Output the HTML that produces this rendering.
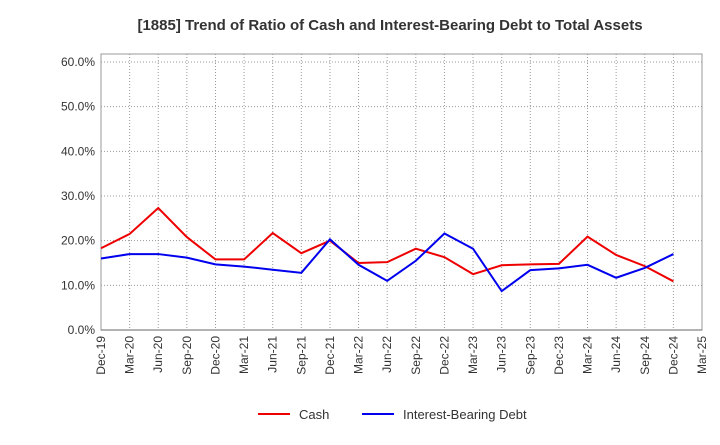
<!DOCTYPE html>
<html><head><meta charset="utf-8"><style>
body{margin:0;background:#fff;font-family:"Liberation Sans",sans-serif;}
</style></head><body>
<svg id="chart" width="720" height="440" xmlns="http://www.w3.org/2000/svg">
<text x="390" y="30" text-anchor="middle" font-size="15" font-weight="bold" fill="#333">[1885]  Trend of Ratio of Cash and Interest-Bearing Debt to Total Assets</text>
<g id="grid"></g><g id="axes"></g><g id="series"></g>
<g>
<line x1="258" y1="414" x2="290" y2="414" stroke="#e00" stroke-width="2"/>
<text x="299" y="419" font-size="13" fill="#333">Cash</text>
<line x1="362" y1="414" x2="394" y2="414" stroke="#00e" stroke-width="2"/>
<text x="403" y="419" font-size="13" fill="#333">Interest-Bearing Debt</text>
</g>
</svg>
<script>
const categories=["Dec-19","Mar-20","Jun-20","Sep-20","Dec-20","Mar-21","Jun-21","Sep-21","Dec-21","Mar-22","Jun-22","Sep-22","Dec-22","Mar-23","Jun-23","Sep-23","Dec-23","Mar-24","Jun-24","Sep-24","Dec-24","Mar-25"];
const cash=[18.3,21.5,27.3,20.8,15.8,15.8,21.7,17.2,20.0,15.0,15.2,18.2,16.3,12.5,14.5,14.7,14.8,20.9,16.8,14.3,10.9];
const debt=[16.0,17.0,17.0,16.2,14.7,14.2,13.5,12.8,20.3,14.6,11.0,15.5,21.6,18.2,8.7,13.4,13.8,14.6,11.7,13.9,17.0];
const yTicks=[0,10,20,30,40,50,60];
const ns="http://www.w3.org/2000/svg";
const L=101,R=702,T=62,B=330,yMax=60;
const x=i=>L+(R-L)*i/(categories.length-1);
const y=v=>B-(B-T)*v/yMax;
function mk(tag,at,parent){const e=document.createElementNS(ns,tag);for(const k in at)e.setAttribute(k,at[k]);document.getElementById(parent).appendChild(e);return e;}
const frame=mk("rect",{x:L,y:T-8,width:R-L,height:B-T+8,fill:"none",stroke:"#999"},"grid");


categories.forEach((c,i)=>{
 const g=mk("line",{x1:x(i),y1:T-8,x2:x(i),y2:B,stroke:"#999","stroke-dasharray":"1,2"},"grid");
 
 
 const t=mk("text",{transform:`translate(${x(i)+4},${B+6}) rotate(-90)`,"text-anchor":"end","font-size":"12",fill:"#333"},"axes");
 t.textContent=c;
 
 
});
yTicks.forEach(v=>{
 const g=mk("line",{x1:L,y1:y(v),x2:R,y2:y(v),stroke:"#999","stroke-dasharray":"1,2"},"grid");
 
 
 const t=mk("text",{x:L-6,y:y(v)+4,"text-anchor":"end","font-size":"12",fill:"#333"},"axes");
 t.textContent=v.toFixed(1)+"%";
 
 
});
const ax=mk("line",{x1:L,y1:B,x2:R,y2:B,stroke:"#666"},"axes");


function line(data,color,name){
 const p=mk("polyline",{points:data.map((v,i)=>x(i)+","+y(v)).join(" "),fill:"none",stroke:color,"stroke-width":2},"series");
 
 
}
line(cash,"#e00","cash-line");
line(debt,"#00e","debt-line");
</script>
</body></html>
